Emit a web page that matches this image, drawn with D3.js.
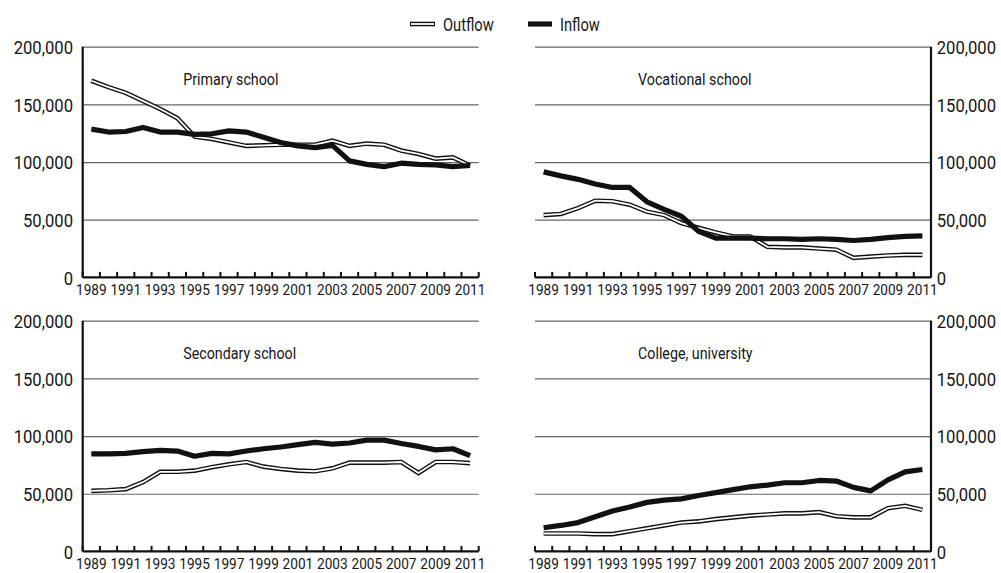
<!DOCTYPE html>
<html>
<head>
<meta charset="utf-8">
<script src="https://cdn.jsdelivr.net/npm/d3@7"></script>
<style>
  body { margin: 0; background: #fff; }
  svg text { font-family: "Roboto", "Liberation Sans", sans-serif; fill: #151515; }
</style>
</head>
<body>
<script>
const width = 1001;
const height = 573;

const years = d3.range(1989, 2012);
const yTicks = [0, 50000, 100000, 150000, 200000];
const yearLabels = years.filter((d, i) => i % 2 === 0);

const titles = ["Primary school", "Vocational school", "Secondary school", "College, university"];

const primaryOut = [170.5, 165, 160, 153, 146, 138, 122, 120, 117, 114, 114.5, 115, 115, 115, 118.5, 114, 116, 115, 110, 107, 103, 104, 97].map(d => d * 1000);
const primaryIn = [128.5, 126, 126.5, 130, 126, 126, 124, 124.5, 127, 126, 121.5, 117, 114, 112.5, 114.5, 101, 98, 96, 99, 98, 97.5, 96, 97].map(d => d * 1000);

const vocationalOut = [54, 55, 60, 66.5, 66, 63, 57, 54, 47, 43, 39, 35.5, 35.5, 26.5, 26, 26, 25, 24, 17, 18, 19, 19.5, 19.5].map(d => d * 1000);
const vocationalIn = [91.5, 88, 85, 81, 78, 78, 65.5, 59, 53, 40, 34, 34, 34, 33.5, 33.5, 33, 33.5, 33, 32, 33, 34.5, 35.5, 36].map(d => d * 1000);

const secondaryOut = [52.5, 53, 54, 60, 69, 69, 70, 73, 75.5, 77.5, 73.5, 71.5, 70, 69.5, 72, 77, 77, 77, 77.5, 68, 77.5, 77.5, 76.5].map(d => d * 1000);
const secondaryIn = [84.5, 84.5, 85, 86.5, 87.5, 87, 82.5, 85, 84.5, 87, 89, 90.5, 92.5, 94.5, 93, 94, 96.5, 96.5, 93.5, 91, 88, 89, 83].map(d => d * 1000);

const collegeOut = [15.5, 15.5, 15.5, 15, 15, 17.5, 20, 22.5, 25, 26, 28, 29.5, 31, 32, 33, 33, 34, 30.5, 29.5, 29.5, 37.5, 39.5, 36].map(d => d * 1000);
const collegeIn = [20.5, 22.5, 25, 30, 35, 38.5, 42.5, 44.5, 45.5, 48.5, 51, 53.5, 56, 57.5, 59.5, 59.5, 61.5, 61, 55.5, 52.5, 62, 69, 71].map(d => d * 1000);

const panels = [
  { title: titles[0], out: primaryOut, inf: primaryIn, x0: 82.7, y0: 46.7, side: "left" },
  { title: titles[1], out: vocationalOut, inf: vocationalIn, x0: 535, y0: 46.7, side: "right" },
  { title: titles[2], out: secondaryOut, inf: secondaryIn, x0: 82.7, y0: 320.7, side: "left" },
  { title: titles[3], out: collegeOut, inf: collegeIn, x0: 535, y0: 320.7, side: "right" }
];
const pw = 396;
const ph = 230.7;

const svg = d3.select("body").append("svg")
  .attr("width", width)
  .attr("height", height);

// the original uses a condensed face; squeeze Roboto horizontally
function label(parent, x, y, txt, size, k) {
  parent.append("g")
    .attr("transform", `translate(${x},${y}) scale(${k},1)`)
    .append("text")
    .attr("font-size", size)
    .text(txt);
}

panels.forEach(p => {
  const g = svg.append("g").attr("transform", `translate(${p.x0},${p.y0})`);

  const x = d3.scaleBand().domain(years).range([0, pw]);
  const y = d3.scaleLinear().domain([0, 200000]).range([ph, 0]);

  // gridlines
  g.append("g")
    .call(d3.axisLeft(y).tickValues(yTicks.slice(1)).tickSize(-pw).tickFormat(""))
    .call(a => a.select(".domain").remove())
    .call(a => a.selectAll(".tick line").attr("stroke", "#666").attr("stroke-width", 1.2));

  // y labels
  const yAxis = p.side === "left" ? d3.axisLeft(y) : d3.axisRight(y);
  g.append("g")
    .attr("transform", p.side === "left" ? "translate(-7,0)" : `translate(${pw + 3},0)`)
    .call(yAxis.tickValues(yTicks).tickSize(0).tickFormat(d3.format(",")))
    .call(a => a.select(".domain").remove())
    .call(a => a.selectAll("text")
      .attr("font-size", 18.5).attr("fill", "#151515").attr("dy", "0.36em")
      .attr("transform", "scale(0.9,1)"));

  // vertical axis line
  const vx = p.side === "left" ? 0 : pw;
  g.append("line")
    .attr("x1", vx).attr("x2", vx)
    .attr("y1", 0).attr("y2", ph)
    .attr("stroke", "#111").attr("stroke-width", 2.2);

  // bottom axis with year labels
  g.append("g")
    .attr("transform", `translate(0,${ph})`)
    .call(d3.axisBottom(x).tickValues(yearLabels).tickSize(0).tickPadding(7.5))
    .call(a => a.select(".domain").remove())
    .call(a => a.selectAll("text")
      .attr("font-size", 14.5).attr("fill", "#151515")
      .attr("transform", "scale(0.94,1)"));

  g.append("line")
    .attr("x1", 0).attr("x2", pw)
    .attr("y1", ph).attr("y2", ph)
    .attr("stroke", "#111").attr("stroke-width", 2.2);

  // tick marks on band boundaries
  const bounds = years.map(d => x(d)).concat([pw]);
  g.selectAll(".btick")
    .data(bounds)
    .join("line")
    .attr("class", "btick")
    .attr("x1", d => d).attr("x2", d => d)
    .attr("y1", ph).attr("y2", ph - 5.5)
    .attr("stroke", "#111").attr("stroke-width", 2);

  const line = d3.line()
    .x((d, i) => x(years[i]) + x.bandwidth() / 2)
    .y(d => y(d));

  // outflow: double line
  g.append("path").datum(p.out)
    .attr("d", line).attr("fill", "none")
    .attr("stroke", "#111").attr("stroke-width", 4.6).attr("stroke-linejoin", "miter");
  g.append("path").datum(p.out)
    .attr("d", line).attr("fill", "none")
    .attr("stroke", "#fff").attr("stroke-width", 1.8).attr("stroke-linejoin", "miter");

  // inflow
  g.append("path").datum(p.inf)
    .attr("d", line).attr("fill", "none")
    .attr("stroke", "#111").attr("stroke-width", 5.2).attr("stroke-linejoin", "round");

  label(g, p.side === "left" ? 100.5 : 103, 38.5, p.title, 17, 0.84);
});

// legend
const legend = svg.append("g");
legend.append("line").attr("x1", 410).attr("x2", 435).attr("y1", 24).attr("y2", 24)
  .attr("stroke", "#111").attr("stroke-width", 4.6);
legend.append("line").attr("x1", 411).attr("x2", 434).attr("y1", 24).attr("y2", 24)
  .attr("stroke", "#fff").attr("stroke-width", 1.8);
label(legend, 443, 30.5, "Outflow", 17.5, 0.84);
legend.append("line").attr("x1", 528).attr("x2", 552).attr("y1", 24).attr("y2", 24)
  .attr("stroke", "#111").attr("stroke-width", 5.2);
label(legend, 560, 30.5, "Inflow", 17.5, 0.84);
</script>
</body>
</html>
